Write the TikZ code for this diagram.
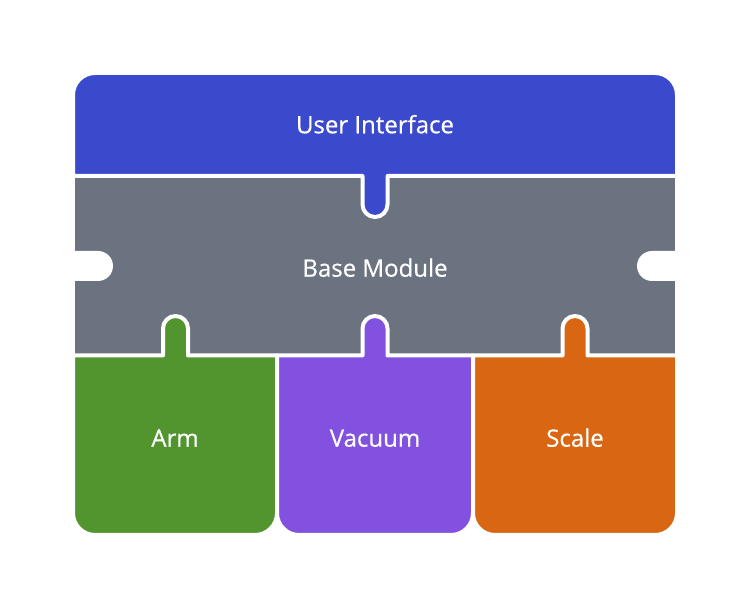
\documentclass[tikz,border=0pt]{standalone}
\usepackage{fontspec}
\setmainfont{Open Sans}
\newfontfamily\lblfont[FakeBold=0.5]{Open Sans}
\usetikzlibrary{positioning}
\definecolor{uiblue}{HTML}{3B4ACC}
\definecolor{basegrey}{HTML}{6B7280}
\definecolor{armgreen}{HTML}{52952F}
\definecolor{vacpurple}{HTML}{8351E0}
\definecolor{scaleorange}{HTML}{D86613}
\tikzset{piece/.style = {draw=white, line width=4pt, line join=round}}
\tikzset{lbl/.style = {text=white, inner sep=0pt, anchor=base,
                       font=\lblfont\fontsize{24}{29}\selectfont}}
\tikzset{notch/.style = {fill=white, rounded corners=15pt}}

\begin{document}
\begin{tikzpicture}[x=1pt, y=1pt]

      \useasboundingbox (0,0) rectangle (750,608);

      % base module
      \fill[basegrey] (75,252.5) rectangle (675,432);
      \fill[notch] (55,327) rectangle (113,357);
      \fill[notch] (637,327) rectangle (695,357);

      % user interface with its tab
      \draw[piece, fill=uiblue]
        (73,432) -- (73,513) arc[start angle=180, end angle=90, radius=22pt]
        -- (655,535) arc[start angle=90, end angle=0, radius=22pt]
        -- (677,432) -- (387.5,432) -- (387.5,403.5)
        arc[start angle=0, end angle=-180, radius=12.5pt]
        -- (362.5,432) -- cycle;

      % the three plug-in modules
      \foreach \xl/\xr/\xt/\col in {73/277/175.5/armgreen,
                                    277/473/375/vacpurple,
                                    473/677/575/scaleorange}{
        \draw[piece, fill=\col]
          (\xl,252.5) -- (\xt-12.5,252.5) -- (\xt-12.5,279.5)
          arc[start angle=180, end angle=0, radius=12.5pt]
          -- (\xt+12.5,252.5) -- (\xr,252.5) -- (\xr,95)
          arc[start angle=0, end angle=-90, radius=22pt]
          -- (\xl+22,73) arc[start angle=270, end angle=180, radius=22pt]
          -- cycle;
      }

      \node[lbl] (ui)   at (375,474.7) {User Interface};
      \node[lbl] (base) at (375,331.3) {Base Module};
      \node[lbl] (arm)  at (175,161.3) {Arm};
      \node[lbl] (vac)  at (375,161.3) {Vacuum};
      \node[lbl] (scl)  at (575,161.3) {Scale};

\end{tikzpicture}
\end{document}
